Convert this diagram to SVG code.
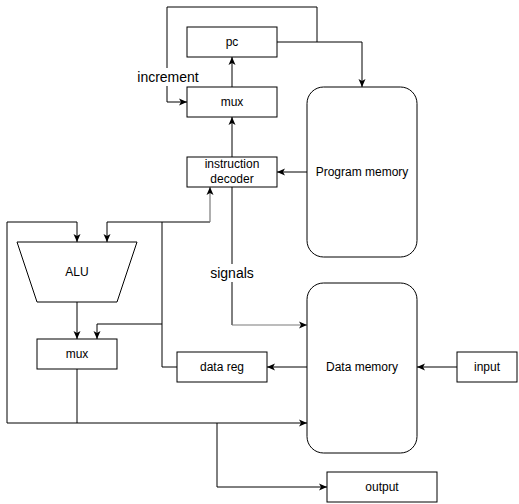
<svg xmlns="http://www.w3.org/2000/svg" width="519" height="504" viewBox="0 0 519 504">
<style>
.n{fill:#fff;stroke:#000;stroke-width:1}
.t{font-family:"Liberation Sans",Arial,Helvetica,sans-serif;font-size:12px;fill:#000;text-anchor:middle}
.lb{font-family:"Liberation Sans",Arial,Helvetica,sans-serif;font-size:14px;fill:#000;text-anchor:middle}
.e{fill:none;stroke:#000;stroke-width:1}
.g{fill:none;stroke:#7a7a7a;stroke-width:1.2}
.a{marker-end:url(#arr)}
</style>
<defs>
<marker id="arr" viewBox="0 0 8 8" refX="8" refY="4" markerWidth="8" markerHeight="8" markerUnits="userSpaceOnUse" orient="auto">
<path d="M8,4 L0,0.5 L2,4 L0,7.5 Z" fill="#000"/>
</marker>
</defs>
<rect width="519" height="504" fill="#fff"/>
<g id="connectors">
<path class="e a" d="M232,87 V57"/>
<path class="e a" d="M232,157 V117"/>
<path class="e a" d="M277,42 H362 V87"/>
<path class="e a" d="M317,42 V7 H167 V102 H187"/>
<path class="e a" d="M307,172 H277"/>
<path class="e" d="M232,187 V325"/>
<path class="g a" d="M232,325 H307"/>
<path class="e" d="M177,367 H162 V222 H210"/>
<path class="g a" d="M210,222 V187"/>
<path class="e a" d="M162,222 H107 V242"/>
<path class="e a" d="M162,324 H97 V339"/>
<path class="e a" d="M77,369 V423 H7 V222 H77 V242"/>
<path class="e a" d="M77,423 H307"/>
<path class="e a" d="M217,423 V487 H327"/>
<path class="e a" d="M77,302 V339"/>
<path class="e a" d="M307,367 H267"/>
<path class="e a" d="M457,367 H417"/>
<rect x="136" y="68" width="64" height="18" fill="#fff"/>
<text class="lb" x="168" y="82">increment</text>
<rect x="210" y="264" width="44" height="18" fill="#fff"/>
<text class="lb" x="232" y="278">signals</text>
</g>
<g id="pc"><rect class="n" x="187" y="27" width="90" height="30"/><text class="t" x="232" y="46">pc</text></g>
<g id="mux-top"><rect class="n" x="187" y="87" width="90" height="30"/><text class="t" x="232" y="106">mux</text></g>
<g id="decoder"><rect class="n" x="187" y="157" width="90" height="30"/><text class="t" x="232" y="168">instruction</text><text class="t" x="232" y="183">decoder</text></g>
<g id="program-memory"><rect class="n" x="307" y="87" width="110" height="170" rx="16.5" ry="16.5"/><text class="t" x="362" y="176">Program memory</text></g>
<g id="alu"><polygon class="n" points="17,242 137,242 117,302 37,302"/><text class="t" x="77" y="276">ALU</text></g>
<g id="mux-bottom"><rect class="n" x="37" y="339" width="80" height="30"/><text class="t" x="77" y="358">mux</text></g>
<g id="data-reg"><rect class="n" x="177" y="352" width="90" height="30"/><text class="t" x="222" y="371">data reg</text></g>
<g id="data-memory"><rect class="n" x="307" y="283" width="110" height="170" rx="16.5" ry="16.5"/><text class="t" x="362" y="371">Data memory</text></g>
<g id="input"><rect class="n" x="457" y="352" width="60" height="30"/><text class="t" x="487" y="371">input</text></g>
<g id="output"><rect class="n" x="327" y="472" width="110" height="30"/><text class="t" x="382" y="491">output</text></g>
</svg>
